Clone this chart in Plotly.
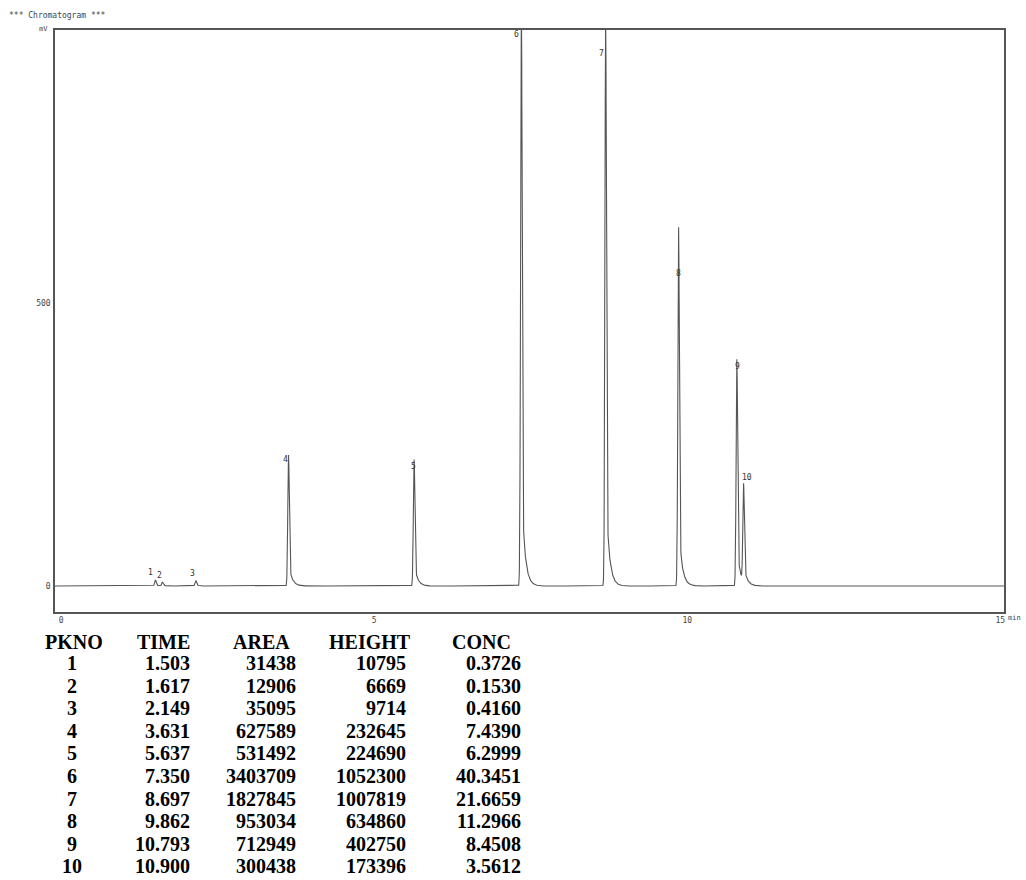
import numpy as np
import plotly.graph_objects as go

# ---------------- data (peak table) ----------------
pkno = [1, 2, 3, 4, 5, 6, 7, 8, 9, 10]
times = [1.503, 1.617, 2.149, 3.631, 5.637, 7.350, 8.697, 9.862, 10.793, 10.900]
areas = [31438, 12906, 35095, 627589, 531492, 3403709, 1827845, 953034, 712949, 300438]
heights = [10795, 6669, 9714, 232645, 224690, 1052300, 1007819, 634860, 402750, 173396]
concs = [0.3726, 0.1530, 0.4160, 7.4390, 6.2999, 40.3451, 21.6659, 11.2966, 8.4508, 3.5612]
headers = ["PKNO", "TIME", "AREA", "HEIGHT", "CONC"]
x_ticks = [0, 5, 10, 15]
y_ticks = [0, 500]

# ---------------- chromatogram trace built from the peak table ----------------
X0, X1 = -0.1, 15.06
Y0, Y1 = -46, 984
t = np.arange(X0, X1, 0.002)
sig = 0.012
tau = 0.05
frac = 0.18
signal = np.zeros_like(t)
for tr, h in zip(times, heights):
    H = h / 1000.0  # uV -> mV
    g = np.exp(-((t - tr) ** 2) / (2 * sig ** 2))
    d = t - tr
    tail = np.where(d > 0, np.exp(-np.clip(d, 0, None) / tau), 0.0)
    shape = np.where(d > 0, (1 - frac) * g + frac * tail, g)
    signal += H * shape

fig = go.Figure()
fig.add_trace(go.Scatter(x=t, y=signal, mode="lines",
                         line=dict(color="#555555", width=1.1),
                         hoverinfo="skip", showlegend=False))

# ---------------- layout geometry ----------------
W, Hh = 1026, 880
L, R, T, B = 55, 1004, 30, 612


def px_x(p):
    return (p - L) / (R - L)


def px_y(p):
    return (B - p) / (B - T)


annotations = []
# peak number labels (style offsets only)
lab_dx = [-5, -3, -3, -3, -1, -5, -4, 0, 1, 3]
lab_dy = [7, 7, 7, -5, -7, -4, -23, -46, -8, 11]
for i, (n, tr, h) in enumerate(zip(pkno, times, heights)):
    yv = min(h / 1000.0, Y1)
    annotations.append(dict(x=tr, y=yv, xref="x", yref="y", text=str(n),
                            showarrow=False, xshift=lab_dx[i], yshift=lab_dy[i],
                            font=dict(family="DejaVu Sans Mono", size=8, color="#333333"),
                            xanchor="center", yanchor="middle"))

# header texts
annotations.append(dict(x=px_x(7), y=px_y(15), xref="paper", yref="paper",
                        text="*** Chromatogram ***", showarrow=False,
                        xanchor="left", yanchor="middle",
                        font=dict(family="DejaVu Sans Mono", size=8, color="#444444")))
annotations.append(dict(x=px_x(37), y=px_y(29), xref="paper", yref="paper",
                        text="mV", showarrow=False, xanchor="left", yanchor="middle",
                        font=dict(family="DejaVu Sans Mono", size=7, color="#444444")))
annotations.append(dict(x=px_x(1006), y=px_y(618), xref="paper", yref="paper",
                        text="min", showarrow=False, xanchor="left", yanchor="middle",
                        font=dict(family="DejaVu Sans Mono", size=7, color="#444444")))

# ---------------- peak table ----------------
tfont = dict(family="Liberation Serif", size=20, color="#000000", weight="bold")
head_y = 642
row_y0 = 663
row_dy = 22.6
head_left = [43, 135, 231, 327, 450]
col_right = [None, 192, 298, 408, 523]
pk_center = 72

for j, hd in enumerate(headers):
    annotations.append(dict(x=px_x(head_left[j]), y=px_y(head_y), xref="paper", yref="paper",
                            text=hd, showarrow=False, xanchor="left", yanchor="middle",
                            font=tfont))

for i in range(len(pkno)):
    yy = px_y(row_y0 + i * row_dy)
    cells = [str(pkno[i]), f"{times[i]:.3f}", str(areas[i]), str(heights[i]), f"{concs[i]:.4f}"]
    for j, c in enumerate(cells):
        if j == 0:
            annotations.append(dict(x=px_x(pk_center), y=yy, xref="paper", yref="paper",
                                    text=c, showarrow=False, xanchor="center", yanchor="middle",
                                    font=tfont))
        else:
            annotations.append(dict(x=px_x(col_right[j]), y=yy, xref="paper", yref="paper",
                                    text=c, showarrow=False, xanchor="right", yanchor="middle",
                                    font=tfont))

axis_font = dict(family="DejaVu Sans Mono", size=8, color="#444444")
fig.update_layout(
    width=W, height=Hh,
    margin=dict(l=L, r=W - R, t=T, b=Hh - B, pad=0),
    paper_bgcolor="white", plot_bgcolor="white",
    showlegend=False,
    xaxis=dict(range=[X0, X1], tickvals=x_ticks, ticktext=[str(v) for v in x_ticks],
               showgrid=False, zeroline=False, showline=True, mirror=True,
               linecolor="#555555", linewidth=1.5, ticks="", tickfont=axis_font,
               ticklabelstandoff=0),
    yaxis=dict(range=[Y0, Y1], tickvals=y_ticks, ticktext=[str(v) for v in y_ticks],
               showgrid=False, zeroline=False, showline=True, mirror=True,
               linecolor="#555555", linewidth=1.5, ticks="", tickfont=axis_font,
               ticklabelstandoff=1),
    annotations=annotations,
)

fig.write_html("out.html")
